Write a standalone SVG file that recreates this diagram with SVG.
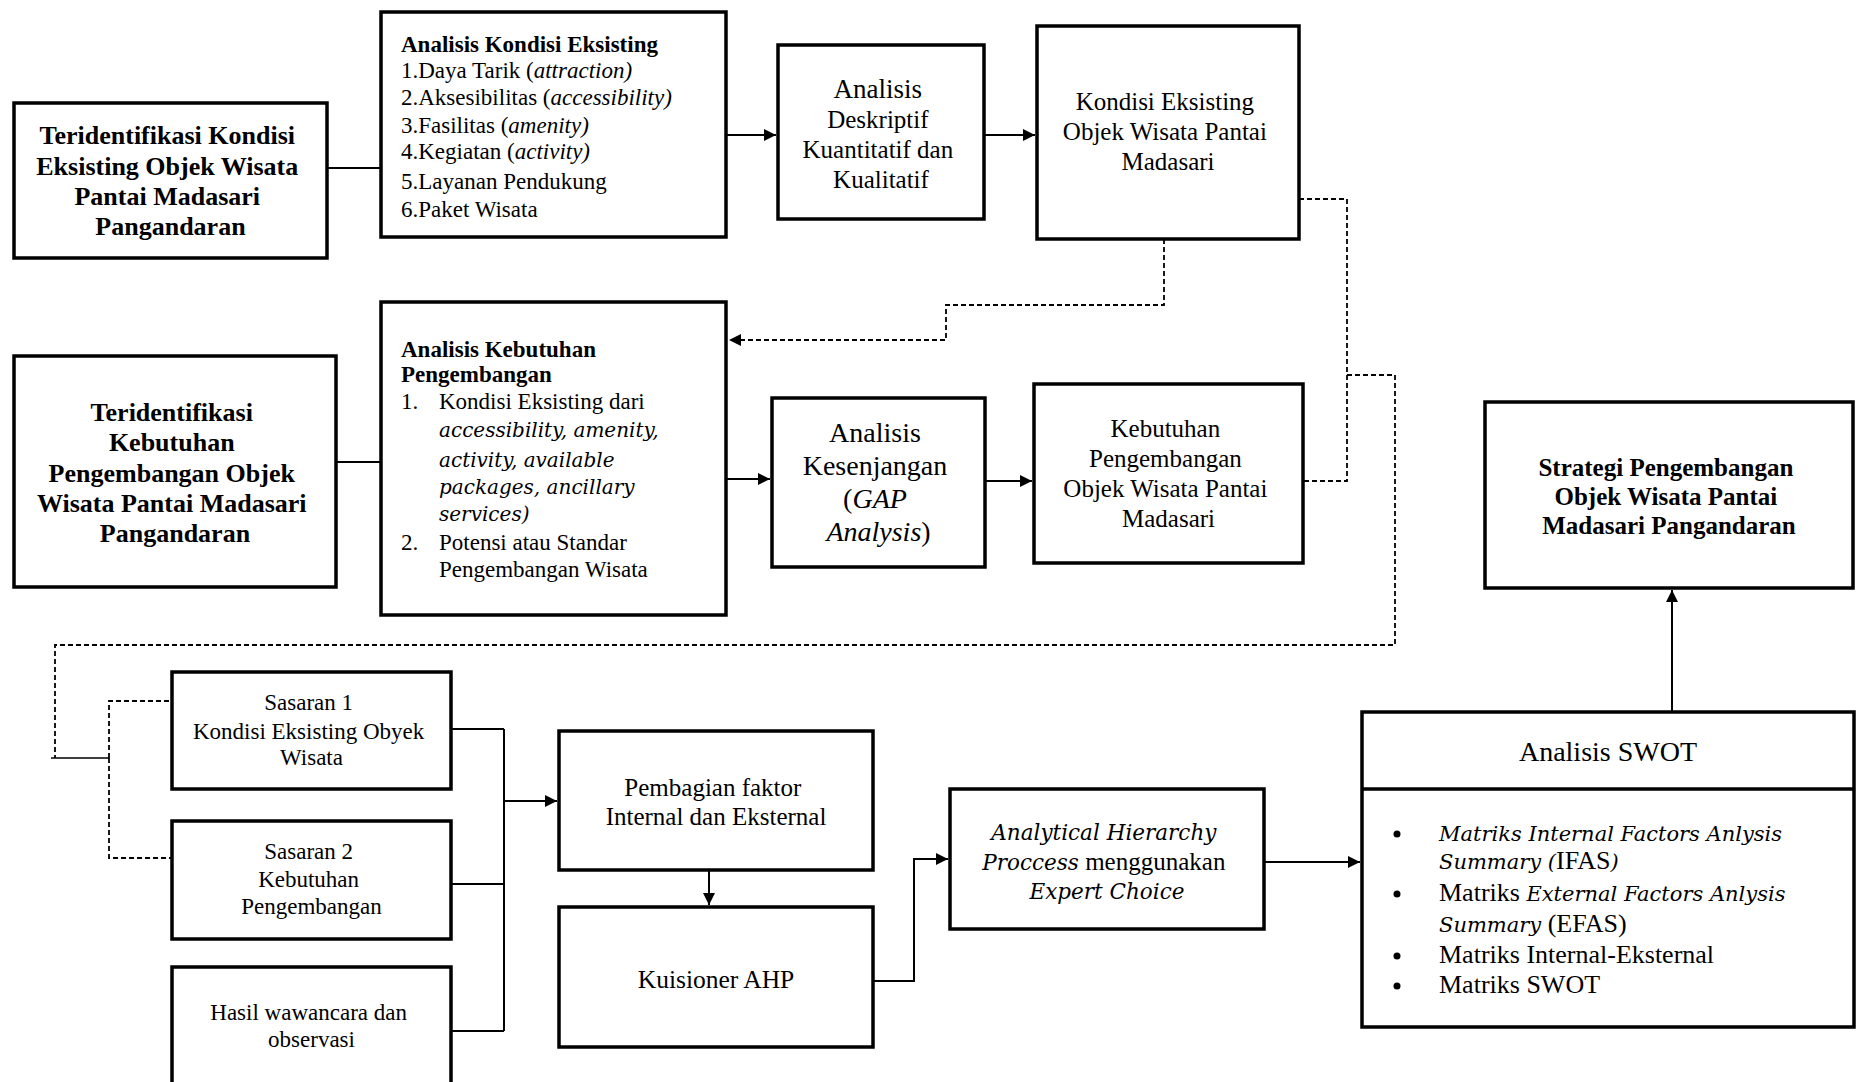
<svg xmlns="http://www.w3.org/2000/svg" width="1857" height="1082" viewBox="0 0 1857 1082">
<style>
.box{fill:#fff;stroke:#000;stroke-width:3.5}
.ln{fill:none;stroke:#000;stroke-width:2}
.dash{fill:none;stroke:#000;stroke-width:1.8;stroke-dasharray:5 3}
text{font-family:"Liberation Serif","Times New Roman",serif;fill:#000}
.b{font-weight:bold}
.c{text-anchor:middle}
.i{font-style:italic}
.ci{font-family:"DejaVu Serif",serif;font-style:italic}
</style>
<defs>
<marker id="arr" viewBox="0 0 10 10" refX="10" refY="5" markerWidth="12" markerHeight="12" markerUnits="userSpaceOnUse" orient="auto">
<path d="M0,0 L10,5 L0,10 z" fill="#000"/>
</marker>
</defs>
<rect width="1857" height="1082" fill="#fff"/>

<g id="connectors">
<path class="ln" d="M327,168 H381"/>
<path class="ln" d="M726,135 H776" marker-end="url(#arr)"/>
<path class="ln" d="M984,135 H1035" marker-end="url(#arr)"/>
<path class="dash" d="M1164,239 V305 H946 V340 H729" marker-end="url(#arr)"/>
<path class="ln" d="M336,462 H381"/>
<path class="ln" d="M726,479 H770" marker-end="url(#arr)"/>
<path class="ln" d="M985,481 H1032" marker-end="url(#arr)"/>
<path class="dash" d="M1299,199 H1347 V481 H1303"/>
<path class="dash" d="M1347,375 H1395 V645 H55 V758"/>
<path class="ln" d="M51,758 H109" style="stroke-width:1.5"/>
<path class="dash" d="M109,758 V701 H172"/>
<path class="dash" d="M109,758 V858 H172"/>
<path class="ln" d="M451,729 H504 M451,884 H504 M451,1031 H504 M504,729 V1031"/>
<path class="ln" d="M504,801 H557" marker-end="url(#arr)"/>
<path class="ln" d="M709,870 V905" marker-end="url(#arr)"/>
<path class="ln" d="M873,981 H914 V859 H948" marker-end="url(#arr)"/>
<path class="ln" d="M1264,862 H1360" marker-end="url(#arr)"/>
<path class="ln" d="M1672,712 V590" marker-end="url(#arr)"/>
</g>

<g id="n-teridentifikasi-kondisi">
<rect class="box" x="14" y="103" width="313" height="155"/>
<text class="b c" font-size="26">
<tspan x="170.5" y="144">Teridentifikasi Kondisi</tspan>
<tspan x="170.5" y="174.5">Eksisting Objek Wisata</tspan>
<tspan x="170.5" y="205">Pantai Madasari</tspan>
<tspan x="170.5" y="235">Pangandaran</tspan>
</text>
</g>

<g id="n-analisis-kondisi">
<rect class="box" x="381" y="12" width="345" height="225"/>
<text font-size="23">
<tspan class="b" x="401" y="52">Analisis Kondisi Eksisting</tspan>
<tspan x="401" y="78">1.Daya Tarik (<tspan class="i">attraction)</tspan></tspan>
<tspan x="401" y="105">2.Aksesibilitas (<tspan class="i">accessibility)</tspan></tspan>
<tspan x="401" y="133">3.Fasilitas (<tspan class="i">amenity)</tspan></tspan>
<tspan x="401" y="159">4.Kegiatan (<tspan class="i">activity)</tspan></tspan>
<tspan x="401" y="189">5.Layanan Pendukung</tspan>
<tspan x="401" y="217">6.Paket Wisata</tspan>
</text>
</g>

<g id="n-analisis-deskriptif">
<rect class="box" x="778" y="45" width="206" height="174"/>
<text class="c" font-size="25">
<tspan x="881" y="98" font-size="27">Analisis</tspan>
<tspan x="881" y="128">Deskriptif</tspan>
<tspan x="881" y="158">Kuantitatif dan</tspan>
<tspan x="881" y="188">Kualitatif</tspan>
</text>
</g>

<g id="n-kondisi-eksisting">
<rect class="box" x="1037" y="26" width="262" height="213"/>
<text class="c" font-size="25">
<tspan x="1168" y="110">Kondisi Eksisting</tspan>
<tspan x="1168" y="140">Objek Wisata Pantai</tspan>
<tspan x="1168" y="170">Madasari</tspan>
</text>
</g>

<g id="n-teridentifikasi-kebutuhan">
<rect class="box" x="14" y="356" width="322" height="231"/>
<text class="b c" font-size="26">
<tspan x="175" y="421">Teridentifikasi</tspan>
<tspan x="175" y="451">Kebutuhan</tspan>
<tspan x="175" y="482">Pengembangan Objek</tspan>
<tspan x="175" y="512">Wisata Pantai Madasari</tspan>
<tspan x="175" y="542">Pangandaran</tspan>
</text>
</g>

<g id="n-analisis-kebutuhan">
<rect class="box" x="381" y="302" width="345" height="313"/>
<text font-size="23">
<tspan class="b" x="401" y="357">Analisis Kebutuhan</tspan>
<tspan class="b" x="401" y="382">Pengembangan</tspan>
<tspan x="401" y="409">1.</tspan>
<tspan x="439" y="409">Kondisi Eksisting dari</tspan>
<tspan class="ci" font-size="20" x="439" y="437">accessibility, amenity,</tspan>
<tspan class="ci" font-size="20" x="439" y="467">activity, available</tspan>
<tspan class="ci" font-size="20" x="439" y="494">packages, ancillary</tspan>
<tspan class="ci" font-size="20" x="439" y="521">services)</tspan>
<tspan x="401" y="550">2.</tspan>
<tspan x="439" y="550">Potensi atau Standar</tspan>
<tspan x="439" y="577">Pengembangan Wisata</tspan>
</text>
</g>

<g id="n-analisis-kesenjangan">
<rect class="box" x="772" y="398" width="213" height="169"/>
<text class="c" font-size="28">
<tspan x="878.5" y="442">Analisis</tspan>
<tspan x="878.5" y="475">Kesenjangan</tspan>
<tspan x="878.5" y="508">(<tspan class="i">GAP</tspan></tspan>
<tspan x="878.5" y="541"><tspan class="i">Analysis</tspan>)</tspan>
</text>
</g>

<g id="n-kebutuhan-pengembangan">
<rect class="box" x="1034" y="384" width="269" height="179"/>
<text class="c" font-size="25">
<tspan x="1168.5" y="437">Kebutuhan</tspan>
<tspan x="1168.5" y="467">Pengembangan</tspan>
<tspan x="1168.5" y="497">Objek Wisata Pantai</tspan>
<tspan x="1168.5" y="527">Madasari</tspan>
</text>
</g>

<g id="n-strategi">
<rect class="box" x="1485" y="402" width="368" height="186"/>
<text class="b c" font-size="25">
<tspan x="1669" y="476">Strategi Pengembangan</tspan>
<tspan x="1669" y="505">Objek Wisata Pantai</tspan>
<tspan x="1669" y="534">Madasari Pangandaran</tspan>
</text>
</g>

<g id="n-sasaran-1">
<rect class="box" x="172" y="672" width="279" height="117"/>
<text class="c" font-size="23">
<tspan x="311.5" y="710">Sasaran 1</tspan>
<tspan x="311.5" y="739">Kondisi Eksisting Obyek</tspan>
<tspan x="311.5" y="765">Wisata</tspan>
</text>
</g>

<g id="n-sasaran-2">
<rect class="box" x="172" y="821" width="279" height="118"/>
<text class="c" font-size="23">
<tspan x="311.5" y="859">Sasaran 2</tspan>
<tspan x="311.5" y="887">Kebutuhan</tspan>
<tspan x="311.5" y="914">Pengembangan</tspan>
</text>
</g>

<g id="n-hasil-wawancara">
<rect class="box" x="172" y="967" width="279" height="130"/>
<text class="c" font-size="23">
<tspan x="311.5" y="1020">Hasil wawancara dan</tspan>
<tspan x="311.5" y="1047">observasi</tspan>
</text>
</g>

<g id="n-pembagian-faktor">
<rect class="box" x="559" y="731" width="314" height="139"/>
<text class="c" font-size="25">
<tspan x="716" y="796">Pembagian faktor</tspan>
<tspan x="716" y="825">Internal dan Eksternal</tspan>
</text>
</g>

<g id="n-kuisioner">
<rect class="box" x="559" y="907" width="314" height="140"/>
<text class="c" font-size="25.5" x="716" y="988">Kuisioner AHP</text>
</g>

<g id="n-ahp">
<rect class="box" x="950" y="789" width="314" height="140"/>
<text class="c" font-size="25">
<tspan class="ci" font-size="21.5" x="1107" y="840">Analytical Hierarchy</tspan>
<tspan x="1107" y="870"><tspan class="ci" font-size="21.5">Proccess</tspan> menggunakan</tspan>
<tspan class="ci" font-size="21.5" x="1107" y="899">Expert Choice</tspan>
</text>
</g>

<g id="n-swot">
<rect class="box" x="1362" y="712" width="492" height="315"/>
<line x1="1362" y1="789" x2="1854" y2="789" stroke="#000" stroke-width="3.5"/>
<text class="c" font-size="28" x="1608" y="761">Analisis SWOT</text>
<g fill="#000">
<circle cx="1397" cy="834" r="3.5"/>
<circle cx="1397" cy="894" r="3.5"/>
<circle cx="1397" cy="956" r="3.5"/>
<circle cx="1397" cy="986" r="3.5"/>
</g>
<text font-size="26">
<tspan class="ci" font-size="21" x="1439" y="841">Matriks Internal Factors Anlysis</tspan>
<tspan x="1439" y="869"><tspan class="ci" font-size="21">Summary (</tspan>IFAS<tspan class="ci" font-size="21">)</tspan></tspan>
<tspan x="1439" y="901">Matriks <tspan class="ci" font-size="21">External Factors Anlysis</tspan></tspan>
<tspan x="1439" y="932"><tspan class="ci" font-size="21">Summary</tspan> (EFAS)</tspan>
<tspan x="1439" y="963">Matriks Internal-Eksternal</tspan>
<tspan x="1439" y="993">Matriks SWOT</tspan>
</text>
</g>
</svg>
